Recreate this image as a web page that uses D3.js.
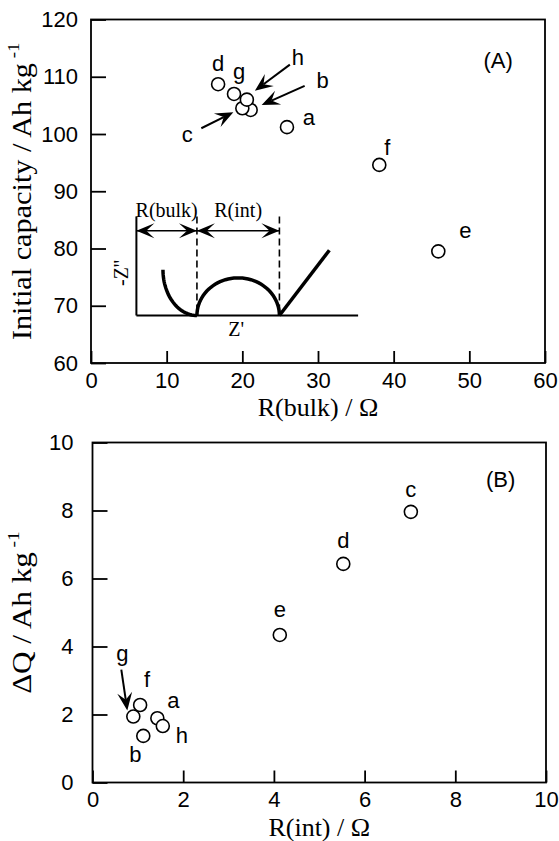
<!DOCTYPE html>
<html><head><meta charset="utf-8">
<script src="https://cdn.jsdelivr.net/npm/d3@7"></script>
<style>body{margin:0;background:#fff}</style>
</head><body><svg id="c" width="559" height="841"></svg>
<script>
// ---------- Panel A data ----------
const samplesA = ["a","b","c","d","e","f","g","h"];
const rBulk    = [25.9, 21.1, 20.0, 16.8, 45.9, 38.1, 18.9, 20.6];
const initCap  = [101.2, 104.2, 104.5, 108.7, 79.5, 94.6, 107.0, 106.0];
const ticksAx  = [0,10,20,30,40,50,60];
const ticksAy  = [60,70,80,90,100,110,120];
// ---------- Panel B data ----------
const samplesB = ["a","b","c","d","e","f","g","h"];
const rInt     = [1.43, 1.12, 7.02, 5.53, 4.13, 1.05, 0.90, 1.55];
const deltaQ   = [1.89, 1.37, 7.96, 6.43, 4.34, 2.28, 1.94, 1.66];
const ticksBx  = [0,2,4,6,8,10];
const ticksBy  = [0,2,4,6,8,10];

// ---------- layout (annotation offsets in px) ----------
const labOffA = {a:[22,-2], b:[72,-22], c:[-55,34], d:[0,-13], e:[27,-13], f:[8,-10], g:[5,-15], h:[51,-35]};
const labOffB = {a:[16,-10], b:[-8,26], c:[0,-15], d:[0,-16], e:[0,-18], f:[7,-18], g:[-11,-56], h:[19,17]};
const arrowsA = [{s:"h", tail:[43,-35], tip:[8,-9]}, {s:"b", tail:[54,-24], tip:[11,-5]}, {s:"c", tail:[-41,20], tip:[-9,4]}];
const arrowsB = [{s:"g", tail:[-12,-47], tip:[-6,-6]}];

const SANS = "'Liberation Sans', Arial, Helvetica, sans-serif";
const SERIF = "'Liberation Serif', 'Times New Roman', serif";

const svg = d3.select("#c");
svg.append("rect").attr("width",559).attr("height",841).attr("fill","#fff");

const xA = d3.scaleLinear([0,60],[91,545]);
const yA = d3.scaleLinear([60,120],[363,19.5]);
const xB = d3.scaleLinear([0,10],[92.5,546]);
const yB = d3.scaleLinear([0,10],[782.5,442.5]);

function head(g, tip, from, L, W, notch){
  const ang = Math.atan2(tip[1]-from[1], tip[0]-from[0]);
  const c = Math.cos(ang), s = Math.sin(ang);
  const p = (u,v)=>[tip[0]+u*c - v*s, tip[1]+u*s + v*c];
  const pts = [p(0,0), p(-L,W), p(-L*notch,0), p(-L,-W)];
  g.append("path").attr("d","M"+pts.map(q=>q.join(",")).join("L")+"Z").attr("fill","#000");
}
function arrow(g, tail, tip, L=18, W=7.5){
  const ang = Math.atan2(tip[1]-tail[1], tip[0]-tail[0]);
  const end = [tip[0]-Math.cos(ang)*L*0.6, tip[1]-Math.sin(ang)*L*0.6];
  g.append("line").attr("x1",tail[0]).attr("y1",tail[1]).attr("x2",end[0]).attr("y2",end[1])
    .attr("stroke","#000").attr("stroke-width",2);
  head(g, tip, tail, L, W, 0.6);
}

function panel(x, y, tx, ty, tickPadY, tickPadX){
  const g = svg.append("g");
  const ax = g.append("g").attr("transform",`translate(0,${y.range()[0]})`)
    .call(d3.axisBottom(x).tickValues(tx).tickSizeInner(-12).tickSizeOuter(0).tickPadding(tickPadX));
  const ay = g.append("g").attr("transform",`translate(${x.range()[0]},0)`)
    .call(d3.axisLeft(y).tickValues(ty).tickSizeInner(-15).tickSizeOuter(0).tickPadding(tickPadY));
  [ax,ay].forEach(a=>{
    a.select(".domain").remove();
    a.selectAll("line").attr("stroke","#000").attr("stroke-width",1.8);
    a.selectAll("text").attr("font-family",SANS).attr("font-size",22).attr("fill","#000");
  });
  g.append("rect").attr("x",x.range()[0]).attr("y",y.range()[1])
    .attr("width",x.range()[1]-x.range()[0]).attr("height",y.range()[0]-y.range()[1])
    .attr("fill","none").attr("stroke","#000").attr("stroke-width",1.8);
  return g;
}

// ---------- Panel A ----------
const gA = panel(xA, yA, ticksAx, ticksAy, 13, 9);

// inset schematic (drawn in panel A units)
const inset = {left:6.0, right:35.3, base:68.3, top:85.6, d1:14.0, d2:24.9, arrowRow:83.1};
const gi = gA.append("g");
gi.append("line").attr("x1",xA(inset.left)).attr("x2",xA(inset.left)).attr("y1",yA(inset.top)).attr("y2",yA(inset.base))
  .attr("stroke","#000").attr("stroke-width",2);
gi.append("line").attr("x1",xA(inset.left)).attr("x2",xA(inset.right)).attr("y1",yA(inset.base)).attr("y2",yA(inset.base))
  .attr("stroke","#000").attr("stroke-width",2);
[inset.d1, inset.d2].forEach(d=>{
  gi.append("line").attr("x1",xA(d)).attr("x2",xA(d)).attr("y1",yA(inset.top)).attr("y2",yA(inset.base))
    .attr("stroke","#000").attr("stroke-width",1.6).attr("stroke-dasharray","7,4");
});
const arcL = d3.range(0, 91, 3).map(t=>{const r=t*Math.PI/180; return [inset.d1 - 4.49*Math.cos(r), 76.3 - 8.0*Math.sin(r)];});
const cx = (inset.d1+inset.d2)/2, rx = (inset.d2-inset.d1)/2;
const semi = d3.range(180, -1, -4).map(t=>{const r=t*Math.PI/180; return [cx + rx*Math.cos(r), inset.base + 6.57*Math.sin(r)];});
const tail = [[inset.d2, inset.base],[31.5, 79.7]];
const ln = d3.line().x(d=>xA(d[0])).y(d=>yA(d[1]));
[arcL, semi, tail].forEach(p=>gi.append("path").attr("d",ln(p)).attr("fill","none").attr("stroke","#000").attr("stroke-width",3.5));
const ay0 = yA(inset.arrowRow);
[[inset.left, inset.d1],[inset.d1, inset.d2]].forEach(([a,b])=>{
  gi.append("line").attr("x1",xA(a)).attr("x2",xA(b)).attr("y1",ay0).attr("y2",ay0).attr("stroke","#000").attr("stroke-width",1.5);
  head(gi,[xA(a),ay0],[xA(b),ay0],18,7.5,0.55);
  head(gi,[xA(b),ay0],[xA(a),ay0],18,7.5,0.55);
});
gi.append("text").attr("x",(xA(inset.left)+xA(inset.d1))/2).attr("y",ay0-14).attr("text-anchor","middle")
  .attr("font-family",SERIF).attr("font-size",20).text("R(bulk)");
gi.append("text").attr("x",(xA(inset.d1)+xA(inset.d2))/2).attr("y",ay0-14).attr("text-anchor","middle")
  .attr("font-family",SERIF).attr("font-size",20).text("R(int)");
gi.append("text").attr("transform",`translate(${xA(inset.left)-8},${(yA(inset.base)+yA(inset.top))/2+7}) rotate(-90)`)
  .attr("text-anchor","middle").attr("font-family",SERIF).attr("font-size",20).text("-Z''");
gi.append("text").attr("x",(xA(inset.d1)+xA(inset.d2))/2-2).attr("y",yA(inset.base)+21).attr("text-anchor","middle")
  .attr("font-family",SERIF).attr("font-size",20).text("Z'");

// points A
const ptsA = samplesA.map((s,i)=>({s, x:xA(rBulk[i]), y:yA(initCap[i])}));
gA.selectAll("circle.p").data(ptsA).join("circle").attr("class","p")
  .attr("cx",d=>d.x).attr("cy",d=>d.y).attr("r",6.5).attr("fill","#fff").attr("stroke","#000").attr("stroke-width",1.6);
gA.selectAll("text.l").data(ptsA).join("text").attr("class","l")
  .attr("x",d=>d.x+labOffA[d.s][0]).attr("y",d=>d.y+labOffA[d.s][1]).attr("text-anchor","middle")
  .attr("font-family",SANS).attr("font-size",22).text(d=>d.s);
arrowsA.forEach(a=>{const p=ptsA.find(d=>d.s===a.s); arrow(gA,[p.x+a.tail[0],p.y+a.tail[1]],[p.x+a.tip[0],p.y+a.tip[1]]);});
gA.append("text").attr("x",xA(53.8)).attr("y",yA(111.5)).attr("text-anchor","middle")
  .attr("font-family",SANS).attr("font-size",22).text("(A)");

// axis titles A
gA.append("text").attr("x",(xA.range()[0]+xA.range()[1])/2).attr("y",416).attr("text-anchor","middle")
  .attr("font-family",SERIF).attr("font-size",26).text("R(bulk) / Ω");
const tA = gA.append("text").attr("transform",`translate(31,${(yA.range()[0]+yA.range()[1])/2}) rotate(-90) scale(1.12,1)`)
  .attr("text-anchor","middle").attr("font-family",SERIF).attr("font-size",27);
tA.append("tspan").text("Initial capacity / Ah kg");
tA.append("tspan").attr("dy",-12).attr("font-size",17).text(" -1");

// ---------- Panel B ----------
const gB = panel(xB, yB, ticksBx, ticksBy, 19, 9);
const ptsB = samplesB.map((s,i)=>({s, x:xB(rInt[i]), y:yB(deltaQ[i])}));
gB.selectAll("circle.p").data(ptsB).join("circle").attr("class","p")
  .attr("cx",d=>d.x).attr("cy",d=>d.y).attr("r",6.5).attr("fill","#fff").attr("stroke","#000").attr("stroke-width",1.6);
gB.selectAll("text.l").data(ptsB).join("text").attr("class","l")
  .attr("x",d=>d.x+labOffB[d.s][0]).attr("y",d=>d.y+labOffB[d.s][1]).attr("text-anchor","middle")
  .attr("font-family",SANS).attr("font-size",22).text(d=>d.s);
arrowsB.forEach(a=>{const p=ptsB.find(d=>d.s===a.s); arrow(gB,[p.x+a.tail[0],p.y+a.tail[1]],[p.x+a.tip[0],p.y+a.tip[1]],18,7.5);});
gB.append("text").attr("x",xB(9.0)).attr("y",yB(8.7)).attr("text-anchor","middle")
  .attr("font-family",SANS).attr("font-size",22).text("(B)");
gB.append("text").attr("x",(xB.range()[0]+xB.range()[1])/2).attr("y",836).attr("text-anchor","middle")
  .attr("font-family",SERIF).attr("font-size",26).text("R(int) / Ω");
const tB = gB.append("text").attr("transform",`translate(31,${(yB.range()[0]+yB.range()[1])/2}) rotate(-90) scale(1.15,1)`)
  .attr("text-anchor","middle").attr("font-family",SERIF).attr("font-size",27);
tB.append("tspan").text("ΔQ / Ah kg");
tB.append("tspan").attr("dy",-12).attr("font-size",17).text(" -1");
</script></body></html>
